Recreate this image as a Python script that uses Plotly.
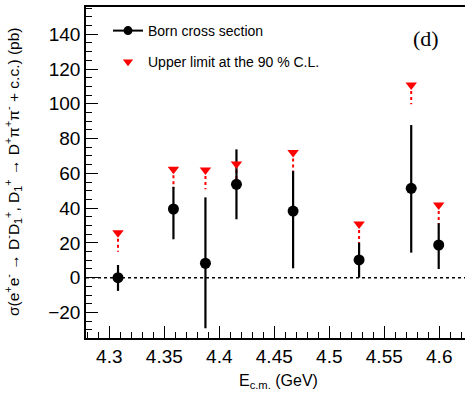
import plotly.graph_objects as go

# Data
energies = [4.3079, 4.3583, 4.3874, 4.4156, 4.4671, 4.5271, 4.5745, 4.5995]
sigma = [0.0, 39.5, 8.3, 53.7, 38.3, 10.2, 51.4, 18.8]
err_up = [7.3, 12.8, 37.9, 20.1, 23.0, 9.9, 36.4, 12.5]
err_dn = [7.6, 17.4, 37.4, 20.1, 32.9, 10.2, 37.0, 13.8]
upper_limit = [25.9, 62.3, 61.9, 65.4, 72.0, 30.9, 110.8, 41.8]
arrow_len = 11.0

x_ticks = [4.3, 4.35, 4.4, 4.45, 4.5, 4.55, 4.6]
x_ticklabels = ["4.3", "4.35", "4.4", "4.45", "4.5", "4.55", "4.6"]
y_ticks = [-20, 0, 20, 40, 60, 80, 100, 120, 140]
y_ticklabels = ["\u221220", "0", "20", "40", "60", "80", "100", "120", "140"]

W, H = 465, 396
ML, MR, MT, MB = 86, 0, 7, 58
PW = W - ML - MR
PH = H - MT - MB

FONT = "Liberation Sans, Arial, sans-serif"

fig = go.Figure()

# zero dashed line
fig.add_hline(y=0, line=dict(color="black", width=1.5, dash="dot"), layer="below")

# arrows (red dashed segments)
ax, ay = [], []
for e, u in zip(energies, upper_limit):
    ax += [e, e, None]
    ay += [u, u - arrow_len, None]
fig.add_trace(go.Scatter(x=ax, y=ay, mode="lines",
                         line=dict(color="#ff0000", width=2, dash="dot"),
                         showlegend=False, hoverinfo="skip"))

# Born cross section with error bars
fig.add_trace(go.Scatter(
    x=energies, y=sigma, mode="markers",
    marker=dict(color="black", size=11, symbol="circle"),
    error_y=dict(type="data", array=err_up, arrayminus=err_dn, symmetric=False,
                 color="black", thickness=2.2, width=0),
    showlegend=False))

# upper limits
fig.add_trace(go.Scatter(
    x=energies, y=upper_limit, mode="markers",
    marker=dict(color="#ff0000", size=10, symbol="triangle-down"),
    showlegend=False))

# legend entries
fig.add_trace(go.Scatter(x=[None], y=[None], mode="lines+markers",
                         name="Born cross section", legendgroup="a",
                         line=dict(color="black", width=2),
                         marker=dict(color="black", size=9)))
fig.add_trace(go.Scatter(x=[None], y=[None], mode="markers",
                         name="Upper limit at the 90 % C.L.", legendgroup="b",
                         marker=dict(color="#ff0000", size=9, symbol="triangle-down")))

def px_x(p):
    return (p - ML) / PW

def px_y(p):
    return 1 - (p - MT) / PH

fig.update_layout(
    width=W, height=H,
    margin=dict(l=ML, r=MR, t=MT, b=MB, autoexpand=False),
    paper_bgcolor="white", plot_bgcolor="white",
    font=dict(family=FONT, color="black"),
    showlegend=True,
    legend=dict(x=px_x(108), y=px_y(15), xanchor="left", yanchor="top",
                bgcolor="rgba(0,0,0,0)", font=dict(size=14, family=FONT),
                traceorder="grouped", tracegroupgap=10, itemwidth=30),
    xaxis=dict(range=[4.2788, 4.6234], showgrid=False, zeroline=False,
               tickmode="array", tickvals=x_ticks, ticktext=x_ticklabels,
               ticks="inside", ticklen=12, tickwidth=1, tickcolor="black",
               minor=dict(dtick=0.01, tick0=4.3, ticks="inside", ticklen=6,
                          tickwidth=1, tickcolor="black", showgrid=False),
               showline=True, linecolor="black", linewidth=1.5, mirror=True,
               tickfont=dict(size=19, family=FONT)),
    yaxis=dict(range=[-34.7, 155.7], showgrid=False, zeroline=False,
               tickmode="array", tickvals=y_ticks, ticktext=y_ticklabels,
               ticks="inside", ticklen=12, tickwidth=1, tickcolor="black",
               minor=dict(dtick=5, tick0=0, ticks="inside", ticklen=6,
                          tickwidth=1, tickcolor="black", showgrid=False),
               showline=True, linecolor="black", linewidth=1.5,
               tickfont=dict(size=19, family=FONT)),
    annotations=[
        dict(text="(d)", xref="paper", yref="paper", x=px_x(426), y=px_y(38),
             xanchor="center", yanchor="middle", showarrow=False,
             font=dict(size=22, family="Liberation Serif, Times New Roman, serif")),
        dict(text="E<sub>c.m.</sub> (GeV)", xref="paper", yref="paper",
             x=px_x(278), y=px_y(381), xanchor="center", yanchor="middle",
             showarrow=False, font=dict(size=16, family=FONT)),
        dict(text="\u03c3(e<sup>+</sup>e<sup>-</sup> \u2192 D<sup>-</sup>D<sub>1</sub><sup>+</sup>, "
                  "D<sub>1</sub><sup>+</sup> \u2192 D<sup>+</sup>\u03c0<sup>+</sup>\u03c0<sup>-</sup> + c.c.) (pb)",
             xref="paper", yref="paper", x=px_x(13), y=px_y(172),
             xanchor="center", yanchor="middle", textangle=-90,
             showarrow=False, font=dict(size=15.5, family=FONT)),
    ],
)

fig.write_html("out.html")
